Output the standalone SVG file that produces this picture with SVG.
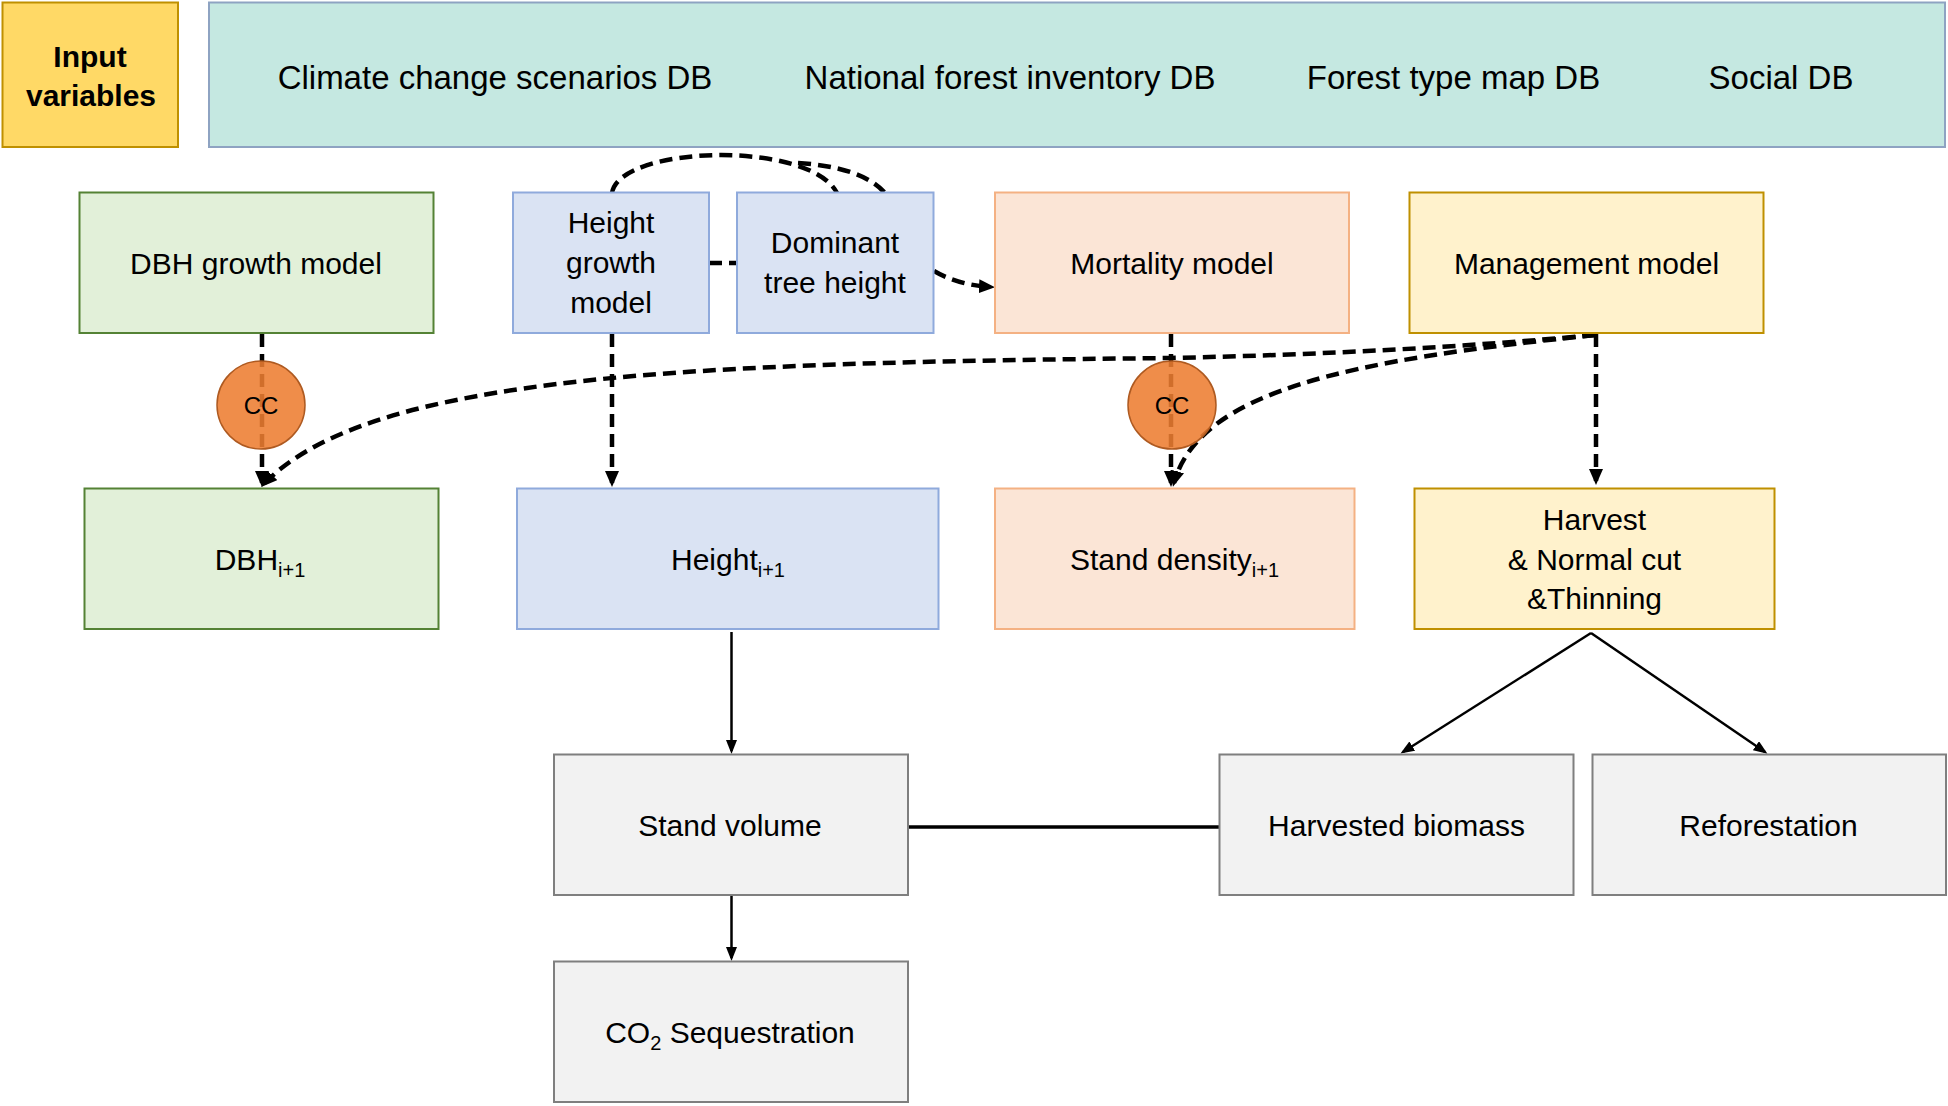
<svg xmlns="http://www.w3.org/2000/svg" width="1948" height="1106" viewBox="0 0 1948 1106">
<style>
text{font-family:"Liberation Sans",Arial,sans-serif;fill:#000}
.lab{font-size:30px;text-anchor:middle}
.top{font-size:33px;text-anchor:middle}
.sub{font-size:20px}
.dash{fill:none;stroke:#000;stroke-width:4.5;stroke-dasharray:13 7}
.solid{fill:none;stroke:#000;stroke-width:2.5}
.green{fill:#E2F0D9;stroke:#548235;stroke-width:2}
.blue{fill:#DAE3F3;stroke:#8FAADC;stroke-width:2}
.orange{fill:#FBE5D6;stroke:#F4B183;stroke-width:2}
.yellow{fill:#FFF2CC;stroke:#BF9000;stroke-width:2}
.gray{fill:#F2F2F2;stroke:#7F7F7F;stroke-width:2}
.cc{fill:#ED7D31;fill-opacity:0.88;stroke:#AE5A21;stroke-width:1.5}
</style>
<defs>
<marker id="ad" markerUnits="userSpaceOnUse" markerWidth="16" markerHeight="14" refX="12" refY="7" orient="auto">
<path d="M0,0 L16,7 L0,14 z" fill="#000"/>
</marker>
<marker id="as" markerUnits="userSpaceOnUse" markerWidth="14" markerHeight="11" refX="11" refY="5.5" orient="auto">
<path d="M0,0 L14,5.5 L0,11 z" fill="#000"/>
</marker>
</defs>
<rect width="1948" height="1106" fill="#fff"/>

<g id="connectors">
<path class="dash" d="M262,334 L262,483" marker-end="url(#ad)"/>
<path class="dash" d="M612,334 L612,483" marker-end="url(#ad)"/>
<path class="dash" d="M1171,334 L1171,483" marker-end="url(#ad)"/>
<path class="dash" d="M1596,334 L1596,481" marker-end="url(#ad)"/>
<path class="dash" d="M709,263 L737,263"/>
<path class="dash" d="M612,193 C620,145 810,140 837,193"/>
<path class="dash" d="M798,163 Q862,167 885,193"/>
<path class="dash" d="M934,271 Q958,285 991,287" marker-end="url(#ad)"/>
<path class="dash" d="M1595,335 Q1400,353 1170,358 C700,363 370,373 264,484" marker-end="url(#ad)"/>
<path class="dash" d="M1596,335 C1350,360 1200,390 1174,483" marker-end="url(#ad)"/>
<path class="solid" d="M731.5,632 L731.5,751" marker-end="url(#as)"/>
<path class="solid" d="M731.5,895 L731.5,958" marker-end="url(#as)"/>
<path class="solid" d="M1591,633 L1403,752" marker-end="url(#as)"/>
<path class="solid" d="M1591,633 L1765,752" marker-end="url(#as)"/>
<path d="M908,827 L1220,827" stroke="#000" stroke-width="3.5" fill="none"/>
</g>

<g id="input-variables">
<rect x="2.5" y="2.5" width="175.5" height="144.5" fill="#FFD966" stroke="#BF9000" stroke-width="2"/>
<text x="90" y="67" font-size="30" font-weight="bold" text-anchor="middle">Input</text>
<text x="91" y="106" font-size="30" font-weight="bold" text-anchor="middle">variables</text>
</g>

<g id="databases">
<rect x="209" y="2.5" width="1736" height="144.5" fill="#C5E8E1" stroke="#8EA3C2" stroke-width="2"/>
<text class="top" x="495" y="89">Climate change scenarios DB</text>
<text class="top" x="1010" y="89">National forest inventory DB</text>
<text class="top" x="1453.5" y="89">Forest type map DB</text>
<text class="top" x="1781" y="89">Social DB</text>
</g>

<g id="dbh-growth-model">
<rect class="green" x="79.5" y="192.5" width="354" height="140.5"/>
<text class="lab" x="256" y="274">DBH growth model</text>
</g>

<g id="height-growth-model">
<rect class="blue" x="513" y="192.5" width="196" height="140.5"/>
<text class="lab" x="611" y="233">Height</text>
<text class="lab" x="611" y="273">growth</text>
<text class="lab" x="611" y="313">model</text>
</g>

<g id="dominant-tree-height">
<rect class="blue" x="737" y="192.5" width="196.5" height="140.5"/>
<text class="lab" x="835" y="253">Dominant</text>
<text class="lab" x="835" y="293">tree height</text>
</g>

<g id="mortality-model">
<rect class="orange" x="995" y="192.5" width="354" height="140.5"/>
<text class="lab" x="1172" y="274">Mortality model</text>
</g>

<g id="management-model">
<rect class="yellow" x="1409.5" y="192.5" width="354" height="140.5"/>
<text class="lab" x="1586.5" y="274">Management model</text>
</g>

<g id="cc-1">
<circle class="cc" cx="261" cy="405" r="44"/>
<text x="261" y="414" font-size="24" text-anchor="middle">CC</text>
</g>

<g id="cc-2">
<circle class="cc" cx="1172" cy="405" r="44"/>
<text x="1172" y="414" font-size="24" text-anchor="middle">CC</text>
</g>

<g id="dbh-next">
<rect class="green" x="84.5" y="488.5" width="354" height="140.5"/>
<text class="lab" x="260" y="570">DBH<tspan class="sub" dy="7">i+1</tspan></text>
</g>

<g id="height-next">
<rect class="blue" x="517" y="488.5" width="421.5" height="140.5"/>
<text class="lab" x="728" y="570">Height<tspan class="sub" dy="7">i+1</tspan></text>
</g>

<g id="stand-density-next">
<rect class="orange" x="995" y="488.5" width="359.5" height="140.5"/>
<text class="lab" x="1174.5" y="570">Stand density<tspan class="sub" dy="7">i+1</tspan></text>
</g>

<g id="harvest">
<rect class="yellow" x="1414.5" y="488.5" width="360" height="140.5"/>
<text class="lab" x="1594.5" y="530">Harvest</text>
<text class="lab" x="1594.5" y="570">&amp; Normal cut</text>
<text class="lab" x="1594.5" y="609">&amp;Thinning</text>
</g>

<g id="stand-volume">
<rect class="gray" x="554" y="754.5" width="354" height="140.5"/>
<text class="lab" x="730" y="836">Stand volume</text>
</g>

<g id="harvested-biomass">
<rect class="gray" x="1219.5" y="754.5" width="354" height="140.5"/>
<text class="lab" x="1396.5" y="836">Harvested biomass</text>
</g>

<g id="reforestation">
<rect class="gray" x="1592.5" y="754.5" width="353.5" height="140.5"/>
<text class="lab" x="1768.5" y="836">Reforestation</text>
</g>

<g id="co2-sequestration">
<rect class="gray" x="554" y="961.5" width="354" height="140.5"/>
<text class="lab" x="730" y="1043">CO<tspan class="sub" dy="7">2</tspan><tspan dy="-7"> Sequestration</tspan></text>
</g>
</svg>
